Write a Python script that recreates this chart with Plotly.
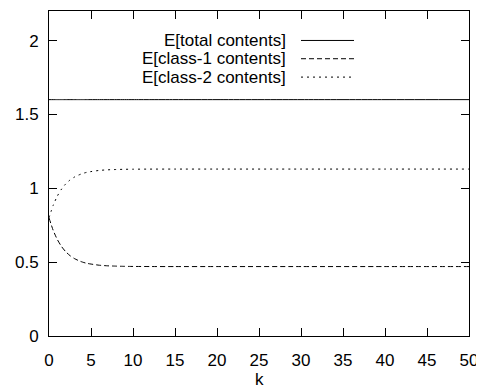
import plotly.graph_objects as go

# data
k = [0, 0.5, 1, 1.5, 2, 2.5, 3, 3.5, 4, 4.5, 5, 6, 7, 8, 9, 10, 12, 15, 20, 30, 40, 50]
total = [1.6] * len(k)
class1 = [0.800, 0.715, 0.652, 0.605, 0.570, 0.544, 0.525, 0.511, 0.500, 0.492, 0.487,
          0.479, 0.475, 0.473, 0.4715, 0.4708, 0.4702, 0.47, 0.47, 0.47, 0.47, 0.47]
class2 = [0.800, 0.885, 0.948, 0.995, 1.030, 1.056, 1.075, 1.089, 1.100, 1.108, 1.113,
          1.121, 1.125, 1.127, 1.1285, 1.1292, 1.1298, 1.13, 1.13, 1.13, 1.13, 1.13]
names = ["E[total contents]", "E[class-1 contents]", "E[class-2 contents]"]
x_ticks = [0, 5, 10, 15, 20, 25, 30, 35, 40, 45, 50]
y_ticks = [0, 0.5, 1, 1.5, 2]
y_tick_labels = ["0", "0.5", "1", "1.5", "2"]

FONT = "Liberation Sans, Arial, Helvetica, sans-serif"
FS = 17
dashes = ["solid", "5px,3px", "2px,4px"]
series = [total, class1, class2]

fig = go.Figure()
for name, ys, d in zip(names, series, dashes):
    fig.add_trace(go.Scatter(x=k, y=ys, mode="lines", name=name,
                             line=dict(color="black", width=1, dash=d, shape="spline", smoothing=0.6),
                             showlegend=False))

# page is offset by the default 8px body margin
OFF = 8
PAGE_W, PAGE_H = 484, 389
W, H = PAGE_W - OFF, PAGE_H - OFF
PLOT_L, PLOT_R, PLOT_T, PLOT_B = 49, 469, 10.5, 336   # page pixels
L = PLOT_L - OFF
T = PLOT_T - OFF
R = PAGE_W - PLOT_R
B = PAGE_H - PLOT_B
pw, ph = PLOT_R - PLOT_L, PLOT_B - PLOT_T

def px_to_paper_x(px):
    return (px - PLOT_L) / pw

def px_to_paper_y(py):
    return (PLOT_B - py) / ph

rows_y = [40, 58.3, 76.7]
annotations = []
shapes = []
for name, d, yy in zip(names, dashes, rows_y):
    annotations.append(dict(text=name, xref="paper", yref="paper",
                            x=px_to_paper_x(288), y=px_to_paper_y(yy),
                            xanchor="right", yanchor="middle", showarrow=False,
                            font=dict(family=FONT, size=FS, color="black")))
    shapes.append(dict(type="line", xref="paper", yref="paper",
                       x0=px_to_paper_x(301), x1=px_to_paper_x(354),
                       y0=px_to_paper_y(yy), y1=px_to_paper_y(yy),
                       line=dict(color="black", width=1, dash=d)))

annotations.append(dict(text="k", xref="paper", yref="paper", x=0.5,
                        y=px_to_paper_y(380), xanchor="center", yanchor="middle",
                        showarrow=False, font=dict(family=FONT, size=FS, color="black")))

axis_common = dict(showline=True, linecolor="black", linewidth=1, mirror="ticks",
                   ticks="inside", ticklen=8, tickcolor="black", tickwidth=1,
                   showgrid=False, zeroline=False,
                   tickfont=dict(family=FONT, size=FS, color="black"))

fig.update_layout(
    width=W, height=H,
    margin=dict(l=L, r=R, t=T, b=B, pad=0),
    paper_bgcolor="white", plot_bgcolor="white",
    xaxis=dict(range=[0, 50], tickvals=x_ticks, ticklabelstandoff=9, **axis_common),
    yaxis=dict(range=[0, 2.2], tickvals=y_ticks, ticktext=y_tick_labels, ticklabelstandoff=6, **axis_common),
    annotations=annotations, shapes=shapes,
)

fig.write_html("out.html")
